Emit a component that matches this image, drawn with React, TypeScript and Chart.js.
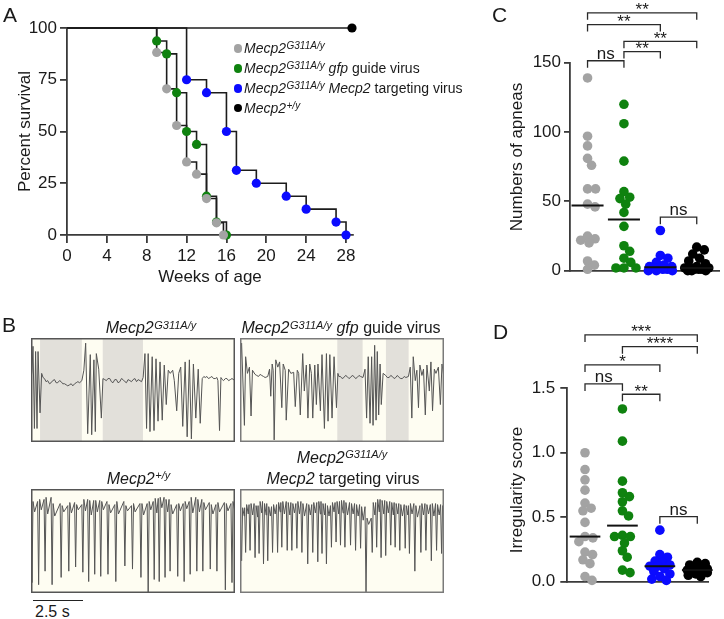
import React, { useEffect, useRef } from "react";
import { Chart, registerables } from "chart.js";

Chart.register(...registerables);

const FONT = "'Liberation Sans', Arial, Helvetica, sans-serif";
const TXT = "#1a1a1a";
const AXIS = "#3a3a3a";
const GREY = "#a3a3a3";
const GREEN = "#0f820f";
const BLUE = "#0b0bff";
const BLACK = "#000000";

Chart.defaults.font.family = FONT;
Chart.defaults.color = TXT;

// ---------------- Panel A: survival ----------------
const weekTicks = [0, 4, 8, 12, 16, 20, 24, 28];
const survivalTicks = [0, 25, 50, 75, 100];
const g311aWeeks = [0, 9, 10, 11, 12, 13, 14, 15, 15.7];
const g311aSurvival = [100, 88.2, 70.6, 52.9, 35.3, 29.4, 17.6, 5.9, 0];
const gfpWeeks = [0, 9, 10, 11, 12, 13, 14, 15, 16];
const gfpSurvival = [100, 93.75, 87.5, 68.75, 50, 43.75, 18.75, 6.25, 0];
const targetWeeks = [0, 12, 14, 16, 17, 19, 22, 24, 27, 28];
const targetSurvival = [100, 75, 68.75, 50, 31.25, 25, 18.75, 12.5, 6.25, 0];
const wtWeeks = [0, 28.6];
const wtSurvival = [100, 100];

// ---------------- Panel C: apneas ----------------
const apneaTicks = [0, 50, 100, 150];
const apneaG311A = [139, 97, 90, 81, 76, 59, 59, 48, 46, 25, 23, 22, 20, 7, 4, 1];
const apneaGfp = [120, 106, 79, 57, 53, 52, 48, 42, 32, 18, 14, 9, 6, 2, 2, 2];
const apneaTarget = [29, 11, 9, 6, 4, 3, 3, 2, 2, 1, 1, 0, 0, 0];
const apneaWt = [17, 15, 12, 9, 7, 5, 3, 2, 2, 2, 1, 1, 1, 0, 0, 0];
const apneaBrackets = [
  { from: 0, to: 1, y: 151.4, label: "ns" },
  { from: 1, to: 2, y: 158, label: "**" },
  { from: 1, to: 3, y: 165.4, label: "**" },
  { from: 0, to: 2, y: 177.5, label: "**" },
  { from: 0, to: 3, y: 186, label: "**" },
  { from: 2, to: 3, y: 38.6, label: "ns" },
];

// ---------------- Panel D: irregularity ----------------
const irregTicks = [0, 0.5, 1.0, 1.5];
const irregG311A = [1.0, 0.87, 0.79, 0.71, 0.61, 0.57, 0.55, 0.46, 0.35, 0.34, 0.31, 0.23, 0.21, 0.17, 0.14, 0.04, 0.01];
const irregGfp = [1.34, 1.09, 0.78, 0.69, 0.66, 0.62, 0.55, 0.51, 0.36, 0.35, 0.35, 0.3, 0.24, 0.19, 0.09, 0.07];
const irregTarget = [0.4, 0.21, 0.19, 0.16, 0.15, 0.13, 0.12, 0.12, 0.1, 0.08, 0.06, 0.04, 0.02, 0.01];
const irregWt = [0.15, 0.14, 0.13, 0.12, 0.11, 0.1, 0.09, 0.09, 0.08, 0.08, 0.07, 0.06, 0.05, 0.04];
const irregBrackets = [
  { from: 0, to: 3, y: 1.914, label: "***" },
  { from: 1, to: 3, y: 1.823, label: "****" },
  { from: 0, to: 2, y: 1.681, label: "*" },
  { from: 0, to: 1, y: 1.534, label: "ns" },
  { from: 1, to: 2, y: 1.454, label: "**" },
  { from: 2, to: 3, y: 0.504, label: "ns" },
];

// ---------------- Panel B: plethysmography traces (time s, signal 0-100) ----------------
const traceG311A = [
  [0.0, 60], [0.05, 69], [0.1, 92], [0.17, 13], [0.23, 87], [0.3, 13], [0.35, 87], [0.45, 28], [0.53, 66],
  [0.6, 62], [0.67, 61], [0.75, 58], [0.83, 59], [0.92, 56], [1.0, 57], [1.08, 59], [1.17, 60], [1.25, 57],
  [1.33, 57], [1.42, 59], [1.5, 58], [1.58, 56], [1.67, 56], [1.75, 55], [1.83, 54], [1.92, 55], [2.0, 56],
  [2.08, 54], [2.17, 56], [2.25, 57], [2.33, 58], [2.42, 57], [2.53, 59],
  [2.63, 69], [2.72, 95], [2.82, 8], [2.95, 84], [3.02, 7], [3.13, 79], [3.2, 10], [3.25, 85], [3.37, 70],
  [3.5, 23], [3.58, 61],
  [3.67, 60], [3.75, 59], [3.83, 61], [3.92, 61], [4.0, 58], [4.08, 57], [4.17, 60], [4.25, 60], [4.33, 57],
  [4.42, 58], [4.5, 61], [4.58, 60], [4.67, 58], [4.75, 57], [4.83, 60], [4.92, 59], [5.0, 58], [5.08, 60],
  [5.17, 61], [5.25, 58], [5.33, 60], [5.42, 59], [5.5, 58], [5.58, 62],
  [5.67, 85], [5.75, 13], [5.83, 85], [5.92, 10], [6.03, 82], [6.12, 11], [6.22, 80], [6.32, 20], [6.42, 77],
  [6.53, 21], [6.63, 74], [6.73, 36], [6.83, 69], [6.93, 66], [7.05, 69], [7.13, 59], [7.25, 30], [7.35, 66],
  [7.45, 72], [7.55, 15], [7.67, 77], [7.77, 5], [7.88, 79], [7.98, 3], [8.08, 75], [8.2, 23], [8.32, 70],
  [8.42, 18], [8.52, 61],
  [8.6, 63], [8.67, 62], [8.75, 63], [8.83, 61], [8.92, 62], [9.0, 63], [9.08, 61], [9.17, 61], [9.25, 62],
  [9.3, 59], [9.38, 11], [9.45, 62], [9.52, 60], [9.58, 59], [9.67, 61], [9.75, 61], [9.83, 59], [9.92, 60],
  [10.0, 61], [10.15, 59],
];
const apneasG311A = [[0.45, 2.53], [3.57, 5.57]];

const traceGfp = [
  [0.0, 70], [0.08, 95], [0.22, 16], [0.28, 82], [0.37, 66], [0.47, 72], [0.55, 25], [0.62, 69],
  [0.75, 65], [0.83, 64], [0.92, 63], [1.0, 65], [1.08, 64], [1.17, 63], [1.25, 62], [1.38, 63],
  [1.47, 70], [1.53, 44], [1.6, 75], [1.65, 69], [1.7, 2], [1.78, 79], [1.88, 72], [1.97, 77], [2.08, 33],
  [2.15, 75], [2.25, 69], [2.3, 21], [2.42, 70], [2.53, 66], [2.67, 67], [2.75, 34], [2.85, 69], [2.92, 66],
  [3.0, 26], [3.12, 85], [3.2, 49], [3.3, 74], [3.38, 23], [3.47, 75], [3.55, 66], [3.62, 23], [3.72, 74],
  [3.8, 36], [3.88, 75], [4.0, 30], [4.08, 84], [4.2, 13], [4.3, 85], [4.38, 20], [4.47, 84], [4.58, 23],
  [4.68, 82], [4.8, 33], [4.87, 66],
  [4.92, 63], [5.0, 63], [5.08, 61], [5.17, 62], [5.25, 64], [5.33, 63], [5.42, 61], [5.5, 62], [5.58, 64],
  [5.67, 63], [5.75, 61], [5.83, 62], [5.92, 64], [6.0, 63], [6.12, 62],
  [6.22, 70], [6.3, 23], [6.38, 82], [6.47, 18], [6.55, 82], [6.62, 16], [6.7, 93], [6.77, 21], [6.83, 87],
  [6.9, 26], [6.97, 75], [7.03, 36], [7.12, 66],
  [7.25, 64], [7.33, 62], [7.42, 62], [7.5, 64], [7.58, 63], [7.67, 61], [7.75, 62], [7.83, 64], [7.92, 62],
  [8.0, 61], [8.08, 61], [8.17, 63], [8.25, 62], [8.38, 63],
  [8.47, 72], [8.55, 23], [8.62, 82], [8.72, 59], [8.8, 69], [8.88, 33], [8.95, 74], [9.05, 64], [9.13, 70],
  [9.22, 26], [9.3, 74], [9.42, 49], [9.5, 77], [9.58, 30], [9.67, 70], [9.75, 66], [9.87, 72], [9.97, 36],
  [10.05, 75], [10.15, 62],
];
const apneasGfp = [[4.84, 6.1], [7.26, 8.39]];

const wtTimes = [0.05, 0.38, 0.7, 1.05, 1.5, 1.88, 2.22, 2.58, 2.87, 3.17, 3.47, 3.83, 4.22, 4.67, 5.05, 5.47, 5.83, 6.13, 6.38, 6.67, 6.92, 7.3, 7.62, 7.92, 8.25, 8.55, 8.92, 9.25, 9.67, 10.0];
const wtTroughs = [10, 8, 21, 8, 15, 21, 25, 20, 11, 18, 16, 18, 11, 26, 23, 15, 0, 13, 11, 15, 21, 16, 11, 18, 21, 21, 23, 21, 3, 10];
const wtPeaks = [88, 90, 92, 86, 84, 87, 85, 90, 89, 89, 88, 85, 88, 84, 86, 86, 88, 91, 92, 90, 85, 86, 88, 92, 90, 87, 85, 87, 86, 88];
const wtPlateaus = [78, 80, 76, 74, 78, 77, 80, 79, 75, 78, 80, 77, 76, 79, 78, 75, 80, 77, 82, 78, 76, 79, 81, 77, 78, 80, 76, 78, 79, 80];

const tgtTimes = [0.08, 0.28, 0.5, 0.75, 0.95, 1.17, 1.38, 1.62, 1.87, 2.08, 2.35, 2.58, 2.83, 3.08, 3.37, 3.62, 3.87, 4.08, 4.3, 4.55, 4.78, 5.0, 5.22, 5.5, 5.75, 6.0, 6.27, 6.58, 6.8, 7.02, 7.25, 7.5, 7.72, 7.95, 8.22, 8.43, 8.7, 9.0, 9.25, 9.52, 9.78, 10.03];
const tgtTroughs = [31, 39, 41, 34, 38, 28, 31, 39, 39, 44, 41, 41, 43, 39, 28, 39, 30, 38, 28, 44, 49, 46, 44, 46, 41, 43, 0, 39, 44, 34, 36, 46, 44, 41, 43, 38, 21, 39, 41, 31, 41, 38];
const tgtPeaks = [82, 85, 86, 84, 88, 86, 83, 85, 87, 88, 87, 86, 88, 86, 85, 87, 88, 86, 84, 87, 88, 89, 87, 86, 85, 83, 72, 87, 90, 89, 88, 87, 86, 85, 84, 86, 84, 86, 85, 86, 85, 84];
const tgtPlateaus = [74, 76, 75, 73, 77, 75, 74, 76, 78, 76, 75, 77, 76, 74, 75, 77, 76, 75, 74, 78, 76, 77, 75, 76, 74, 70, 66, 75, 78, 76, 77, 75, 76, 74, 75, 76, 73, 75, 76, 74, 75, 74];

// ---------------- helpers ----------------
const median = (a: number[]) => {
  const s = [...a].sort((p, q) => p - q);
  const m = s.length >> 1;
  return s.length % 2 ? s[m] : (s[m - 1] + s[m]) / 2;
};

function breathTrace(times: number[], troughs: number[], peaks: number[], plateaus: number[], end: number) {
  const pts: { x: number; y: number }[] = [{ x: 0, y: peaks[0] }];
  times.forEach((t, i) => {
    pts.push({ x: t, y: troughs[i] });
    pts.push({ x: t + 0.05, y: peaks[i] });
    pts.push({ x: t + 0.13, y: plateaus[i] });
    const next = i + 1 < times.length ? times[i + 1] : end;
    pts.push({ x: next - 0.05, y: peaks[i] });
  });
  return pts;
}

function axisStyle(tickLen: number) {
  return {
    grid: { display: true, drawOnChartArea: false, drawTicks: true, tickLength: tickLen, color: AXIS, lineWidth: 1.8 },
    border: { display: true, color: AXIS, width: 1.8 },
  };
}

function survivalConfig(): any {
  const series: any[] = [
    [g311aWeeks, g311aSurvival, GREY],
    [gfpWeeks, gfpSurvival, GREEN],
    [targetWeeks, targetSurvival, BLUE],
    [wtWeeks, wtSurvival, BLACK],
  ];
  const pts = (w: number[], s: number[]) => w.map((x, i) => ({ x, y: s[i] }));
  const lines = series.map(([w, s]) => ({
    type: "line", data: pts(w, s), stepped: "before", borderColor: "#1c1c1c", borderWidth: 1.6,
    pointRadius: 0, fill: false, order: 2, clip: false,
  }));
  const dots = series.map(([w, s, c]) => ({
    type: "scatter", data: pts(w, s).slice(1), backgroundColor: c, borderColor: c, borderWidth: 0,
    pointRadius: 4.6, order: 1, clip: false,
  }));
  return {
    type: "scatter",
    data: { datasets: [...lines, ...dots] },
    options: {
      responsive: false, animation: false, events: [],
      layout: { padding: { left: 0, top: 28, right: 17, bottom: 0 } },
      plugins: { legend: { display: false }, tooltip: { enabled: false } },
      scales: {
        x: {
          type: "linear", min: 0, max: 28.7,
          afterBuildTicks: (s: any) => { s.ticks = weekTicks.map((v) => ({ value: v })); },
          afterFit: (s: any) => { s.height = 55; },
          ...axisStyle(8),
          ticks: { font: { size: 17 }, color: TXT, padding: 3, maxRotation: 0, autoSkip: false },
          title: { display: true, text: "Weeks of age", font: { size: 17 }, color: TXT, padding: { top: 0, bottom: 2 } },
        },
        y: {
          type: "linear", min: 0, max: 100,
          afterBuildTicks: (s: any) => { s.ticks = survivalTicks.map((v) => ({ value: v })); },
          afterFit: (s: any) => { s.width = 67; },
          ...axisStyle(7),
          ticks: { font: { size: 17 }, color: TXT, padding: 3 },
          title: { display: true, text: "Percent survival", font: { size: 17 }, color: TXT, padding: { top: 15, bottom: 0 } },
        },
      },
    },
  };
}

function bracketPlugin(brackets: any[], yTitle: string, titleX: number, titleY: number) {
  return {
    id: "sigBrackets",
    afterDraw(chart: any) {
      const { ctx, scales } = chart;
      const x = scales.x, y = scales.y;
      ctx.save();
      ctx.strokeStyle = "#2a2a2a";
      ctx.lineWidth = 1.3;
      ctx.fillStyle = TXT;
      ctx.textAlign = "center";
      ctx.textBaseline = "alphabetic";
      for (const b of brackets) {
        const x1 = x.getPixelForValue(b.from);
        const x2 = x.getPixelForValue(b.to);
        const py = y.getPixelForValue(b.y);
        ctx.beginPath();
        ctx.moveTo(x1, py + 7);
        ctx.lineTo(x1, py);
        ctx.lineTo(x2, py);
        ctx.lineTo(x2, py + 7);
        ctx.stroke();
        const ns = b.label === "ns";
        ctx.font = `17px ${FONT}`;
        ctx.fillText(b.label, (x1 + x2) / 2, ns ? py - 2 : py + 2.5);
      }
      // rotated y-axis title
      ctx.translate(titleX, titleY);
      ctx.rotate(-Math.PI / 2);
      ctx.textBaseline = "middle";
      ctx.font = `17px ${FONT}`;
      ctx.fillText(yTitle, 0, 0);
      ctx.restore();
    },
  };
}

// beeswarm-style horizontal spread (layout only), clamped to a maximum half-width
function swarm(chart: any, groups: number[][], minDist: number, maxOff: number) {
  const xs = chart.scales.x, ys = chart.scales.y;
  groups.forEach((values, g) => {
    const cx = xs.getPixelForValue(g);
    const order = values.map((_, i) => i).sort((a, b) => values[b] - values[a]);
    const placed: { x: number; y: number }[] = [];
    const out: any[] = new Array(values.length);
    for (const i of order) {
      const py = ys.getPixelForValue(values[i]);
      const cands = [0];
      for (const p of placed) {
        const dy = p.y - py;
        if (Math.abs(dy) < minDist) {
          const half = Math.sqrt(minDist * minDist - dy * dy);
          cands.push(p.x + half + 0.01, p.x - half - 0.01);
        }
      }
      cands.sort((a, b) => Math.abs(a) - Math.abs(b));
      let best: number | null = null;
      for (const c of cands) {
        if (Math.abs(c) > maxOff) continue;
        if (placed.every((p) => (p.x - c) ** 2 + (p.y - py) ** 2 >= minDist * minDist - 0.05)) { best = c; break; }
      }
      if (best === null) {
        let bestScore = -1;
        best = 0;
        for (let c = -maxOff; c <= maxOff + 0.001; c += 0.5) {
          let md = Infinity;
          for (const p of placed) md = Math.min(md, Math.hypot(p.x - c, p.y - py));
          if (md > bestScore + 0.01 || (Math.abs(md - bestScore) <= 0.01 && Math.abs(c) < Math.abs(best))) {
            bestScore = md;
            best = c;
          }
        }
      }
      placed.push({ x: best, y: py });
      out[i] = { x: xs.getValueForPixel(cx + best), y: values[i] };
    }
    chart.data.datasets[g].data = out;
  });
  chart.update("none");
}

function dotConfig(p: any): any {
  const dots = p.groups.map((vals: number[], g: number) => ({
    type: "scatter", data: vals.map((v) => ({ x: g, y: v })), backgroundColor: p.colors[g],
    borderWidth: 0, pointRadius: 4.8, order: 2, clip: false,
  }));
  const meds = p.groups.map((vals: number[], g: number) => {
    const m = median(vals);
    return {
      type: "line", data: [{ x: g - p.medHalf, y: m }, { x: g + p.medHalf, y: m }], borderColor: "#111",
      borderWidth: 2, pointRadius: 0, order: 1, clip: false,
    };
  });
  return {
    type: "scatter",
    data: { datasets: [...dots, ...meds] },
    options: {
      responsive: false, animation: false, events: [],
      layout: { padding: { left: 0, top: p.padTop, right: p.padRight, bottom: 0 } },
      plugins: { legend: { display: false }, tooltip: { enabled: false } },
      scales: {
        x: {
          type: "linear", min: p.xMin, max: p.xMax,
          afterFit: (s: any) => { s.height = p.xAxisH; },
          grid: { display: false }, border: { display: true, color: AXIS, width: 1.8 }, ticks: { display: false },
        },
        y: {
          type: "linear", min: p.yTicks[0], max: p.yTicks[p.yTicks.length - 1],
          afterBuildTicks: (s: any) => { s.ticks = p.yTicks.map((v: number) => ({ value: v })); },
          afterFit: (s: any) => { s.width = p.yAxisW; },
          ...axisStyle(p.tickLen),
          ticks: { font: { size: 17 }, color: TXT, padding: p.tickPad, callback: p.fmt },
          title: { display: false },
        },
      },
    },
    plugins: [bracketPlugin(p.brackets, p.yTitle, p.titleX, p.titleY)],
  };
}

function boxPlugin(apneas: number[][], frame: string) {
  return {
    id: "traceBox",
    beforeDatasetsDraw(chart: any) {
      const { ctx, chartArea: a, scales } = chart;
      ctx.save();
      ctx.fillStyle = "#fefdf2";
      ctx.fillRect(a.left, a.top, a.right - a.left, a.bottom - a.top);
      ctx.fillStyle = "#e2e0da";
      for (const [s, e] of apneas) {
        const x1 = scales.x.getPixelForValue(s), x2 = scales.x.getPixelForValue(e);
        ctx.fillRect(x1, a.top, x2 - x1, a.bottom - a.top);
      }
      ctx.restore();
    },
    afterDatasetsDraw(chart: any) {
      const { ctx, chartArea: a } = chart;
      ctx.save();
      ctx.strokeStyle = frame;
      ctx.lineWidth = 1.5;
      ctx.strokeRect(a.left + 0.75, a.top + 0.75, a.right - a.left - 1.5, a.bottom - a.top - 1.5);
      ctx.restore();
    },
  };
}

function traceConfig(points: { x: number; y: number }[], apneas: number[][], frame: string): any {
  return {
    type: "line",
    data: { datasets: [{ data: points, borderColor: "#555", borderWidth: 1, pointRadius: 0, tension: 0, fill: false }] },
    options: {
      responsive: false, animation: false, events: [],
      layout: { padding: 0 },
      plugins: { legend: { display: false }, tooltip: { enabled: false } },
      scales: {
        x: { type: "linear", min: 0, max: 10.15, display: false },
        y: { type: "linear", min: 0, max: 100, display: false },
      },
    },
    plugins: [boxPlugin(apneas, frame)],
  };
}

const pairs = (arr: number[][]) => arr.map(([t, v]) => ({ x: t, y: v }));

function ChartCanvas({ x, y, w, h, make, post }: any) {
  const ref = useRef<HTMLCanvasElement>(null);
  useEffect(() => {
    const chart = new Chart(ref.current as HTMLCanvasElement, make());
    if (post) post(chart);
    return () => chart.destroy();
  }, []);
  return (
    <div style={{ position: "absolute", left: x, top: y, width: w, height: h }}>
      <canvas ref={ref} width={w} height={h} style={{ display: "block", width: w, height: h }} />
    </div>
  );
}

const Sup = ({ children, size, raise }: any) => (
  <span style={{ fontSize: size, position: "relative", top: -raise, marginLeft: 0.5 }}>{children}</span>
);

function Txt({ left, top, size, center, children, style }: any) {
  return (
    <div
      style={{
        position: "absolute", left, top, fontSize: size, lineHeight: `${Math.round(size * 1.25)}px`,
        whiteSpace: "nowrap", transform: center ? "translateX(-50%)" : undefined, ...style,
      }}
    >
      {children}
    </div>
  );
}

const legendRows = [
  { color: GREY, cy: 48.5 },
  { color: GREEN, cy: 68.5 },
  { color: BLUE, cy: 88.5 },
  { color: BLACK, cy: 108.3 },
];

export default function App() {
  const apneaGroups = [apneaG311A, apneaGfp, apneaTarget, apneaWt];
  const irregGroups = [irregG311A, irregGfp, irregTarget, irregWt];
  const colors = [GREY, GREEN, BLUE, BLACK];
  const legendTexts = [
    <><i>Mecp2</i><Sup size={10} raise={4}><i>G311A/y</i></Sup></>,
    <><i>Mecp2</i><Sup size={10} raise={4}><i>G311A/y</i></Sup> <i>gfp</i> guide virus</>,
    <><i>Mecp2</i><Sup size={10} raise={4}><i>G311A/y</i></Sup> <i>Mecp2</i> targeting virus</>,
    <><i>Mecp2</i><Sup size={10} raise={4}><i>+/y</i></Sup></>,
  ];
  return (
    <div style={{ position: "absolute", left: 0, top: 0, width: 724, height: 619, background: "#fff", overflow: "hidden", fontFamily: FONT, color: TXT }}>
      <ChartCanvas x={0} y={0} w={370} h={290} make={survivalConfig} />
      <ChartCanvas
        x={490} y={0} w={234} h={290}
        make={() => dotConfig({
          groups: apneaGroups, colors, yTicks: apneaTicks, yTitle: "Numbers of apneas", brackets: apneaBrackets,
          padTop: 62.7, padRight: 1, yAxisW: 80, xAxisH: 19.3, xMin: -0.482, xMax: 3.617, tickLen: 6, tickPad: 3,
          titleX: 27, titleY: 157, medHalf: 0.44, fmt: (v: any) => String(v),
        })}
        post={(c: any) => swarm(c, apneaGroups, 8, 12)}
      />
      <ChartCanvas
        x={490} y={290} w={234} h={329}
        make={() => dotConfig({
          groups: irregGroups, colors, yTicks: irregTicks, yTitle: "Irregularity score", brackets: irregBrackets,
          padTop: 98.3, padRight: 16, yAxisW: 77.3, xAxisH: 37.3, xMin: -0.473, xMax: 3.286, tickLen: 7, tickPad: 5,
          titleX: 27.5, titleY: 200, medHalf: 0.41, fmt: (v: any) => Number(v).toFixed(1),
        })}
        post={(c: any) => swarm(c, irregGroups, 8, 10)}
      />
      <ChartCanvas x={31} y={338} w={204} h={104} make={() => traceConfig(pairs(traceG311A), apneasG311A, "#555")} />
      <ChartCanvas x={240} y={338} w={204} h={104} make={() => traceConfig(pairs(traceGfp), apneasGfp, "#7a7a7a")} />
      <ChartCanvas x={31} y={489} w={204} h={104} make={() => traceConfig(breathTrace(wtTimes, wtTroughs, wtPeaks, wtPlateaus, 10.3), [], "#555")} />
      <ChartCanvas x={240} y={489} w={204} h={104} make={() => traceConfig(breathTrace(tgtTimes, tgtTroughs, tgtPeaks, tgtPlateaus, 10.3), [], "#7a7a7a")} />

      {/* panel letters */}
      <Txt left={3} top={2} size={21}>A</Txt>
      <Txt left={2} top={312} size={21}>B</Txt>
      <Txt left={492} top={2} size={21}>C</Txt>
      <Txt left={493} top={319} size={21}>D</Txt>

      {/* legend A */}
      {legendRows.map((r, i) => (
        <React.Fragment key={i}>
          <div style={{ position: "absolute", left: 233.8, top: r.cy - 4.2, width: 8.4, height: 8.4, borderRadius: "50%", background: r.color }} />
          <Txt left={244} top={r.cy - 9.5} size={14}>{legendTexts[i]}</Txt>
        </React.Fragment>
      ))}

      {/* panel B titles */}
      <Txt left={151} top={318} size={16} center><i>Mecp2</i><Sup size={11} raise={4.5}><i>G311A/y</i></Sup></Txt>
      <Txt left={341} top={318} size={16} center><i>Mecp2</i><Sup size={11} raise={4.5}><i>G311A/y</i></Sup> <i>gfp</i> guide virus</Txt>
      <Txt left={138.5} top={468.5} size={16} center><i>Mecp2</i><Sup size={11} raise={4.5}><i>+/y</i></Sup></Txt>
      <Txt left={342} top={447.5} size={16} center><i>Mecp2</i><Sup size={11} raise={4.5}><i>G311A/y</i></Sup></Txt>
      <Txt left={343} top={468.5} size={16} center><i>Mecp2</i> targeting virus</Txt>

      {/* scale bar */}
      <div style={{ position: "absolute", left: 32.7, top: 600, width: 50, height: 0, borderTop: "1.5px solid #222" }} />
      <Txt left={35} top={602} size={16}>2.5 s</Txt>
    </div>
  );
}
